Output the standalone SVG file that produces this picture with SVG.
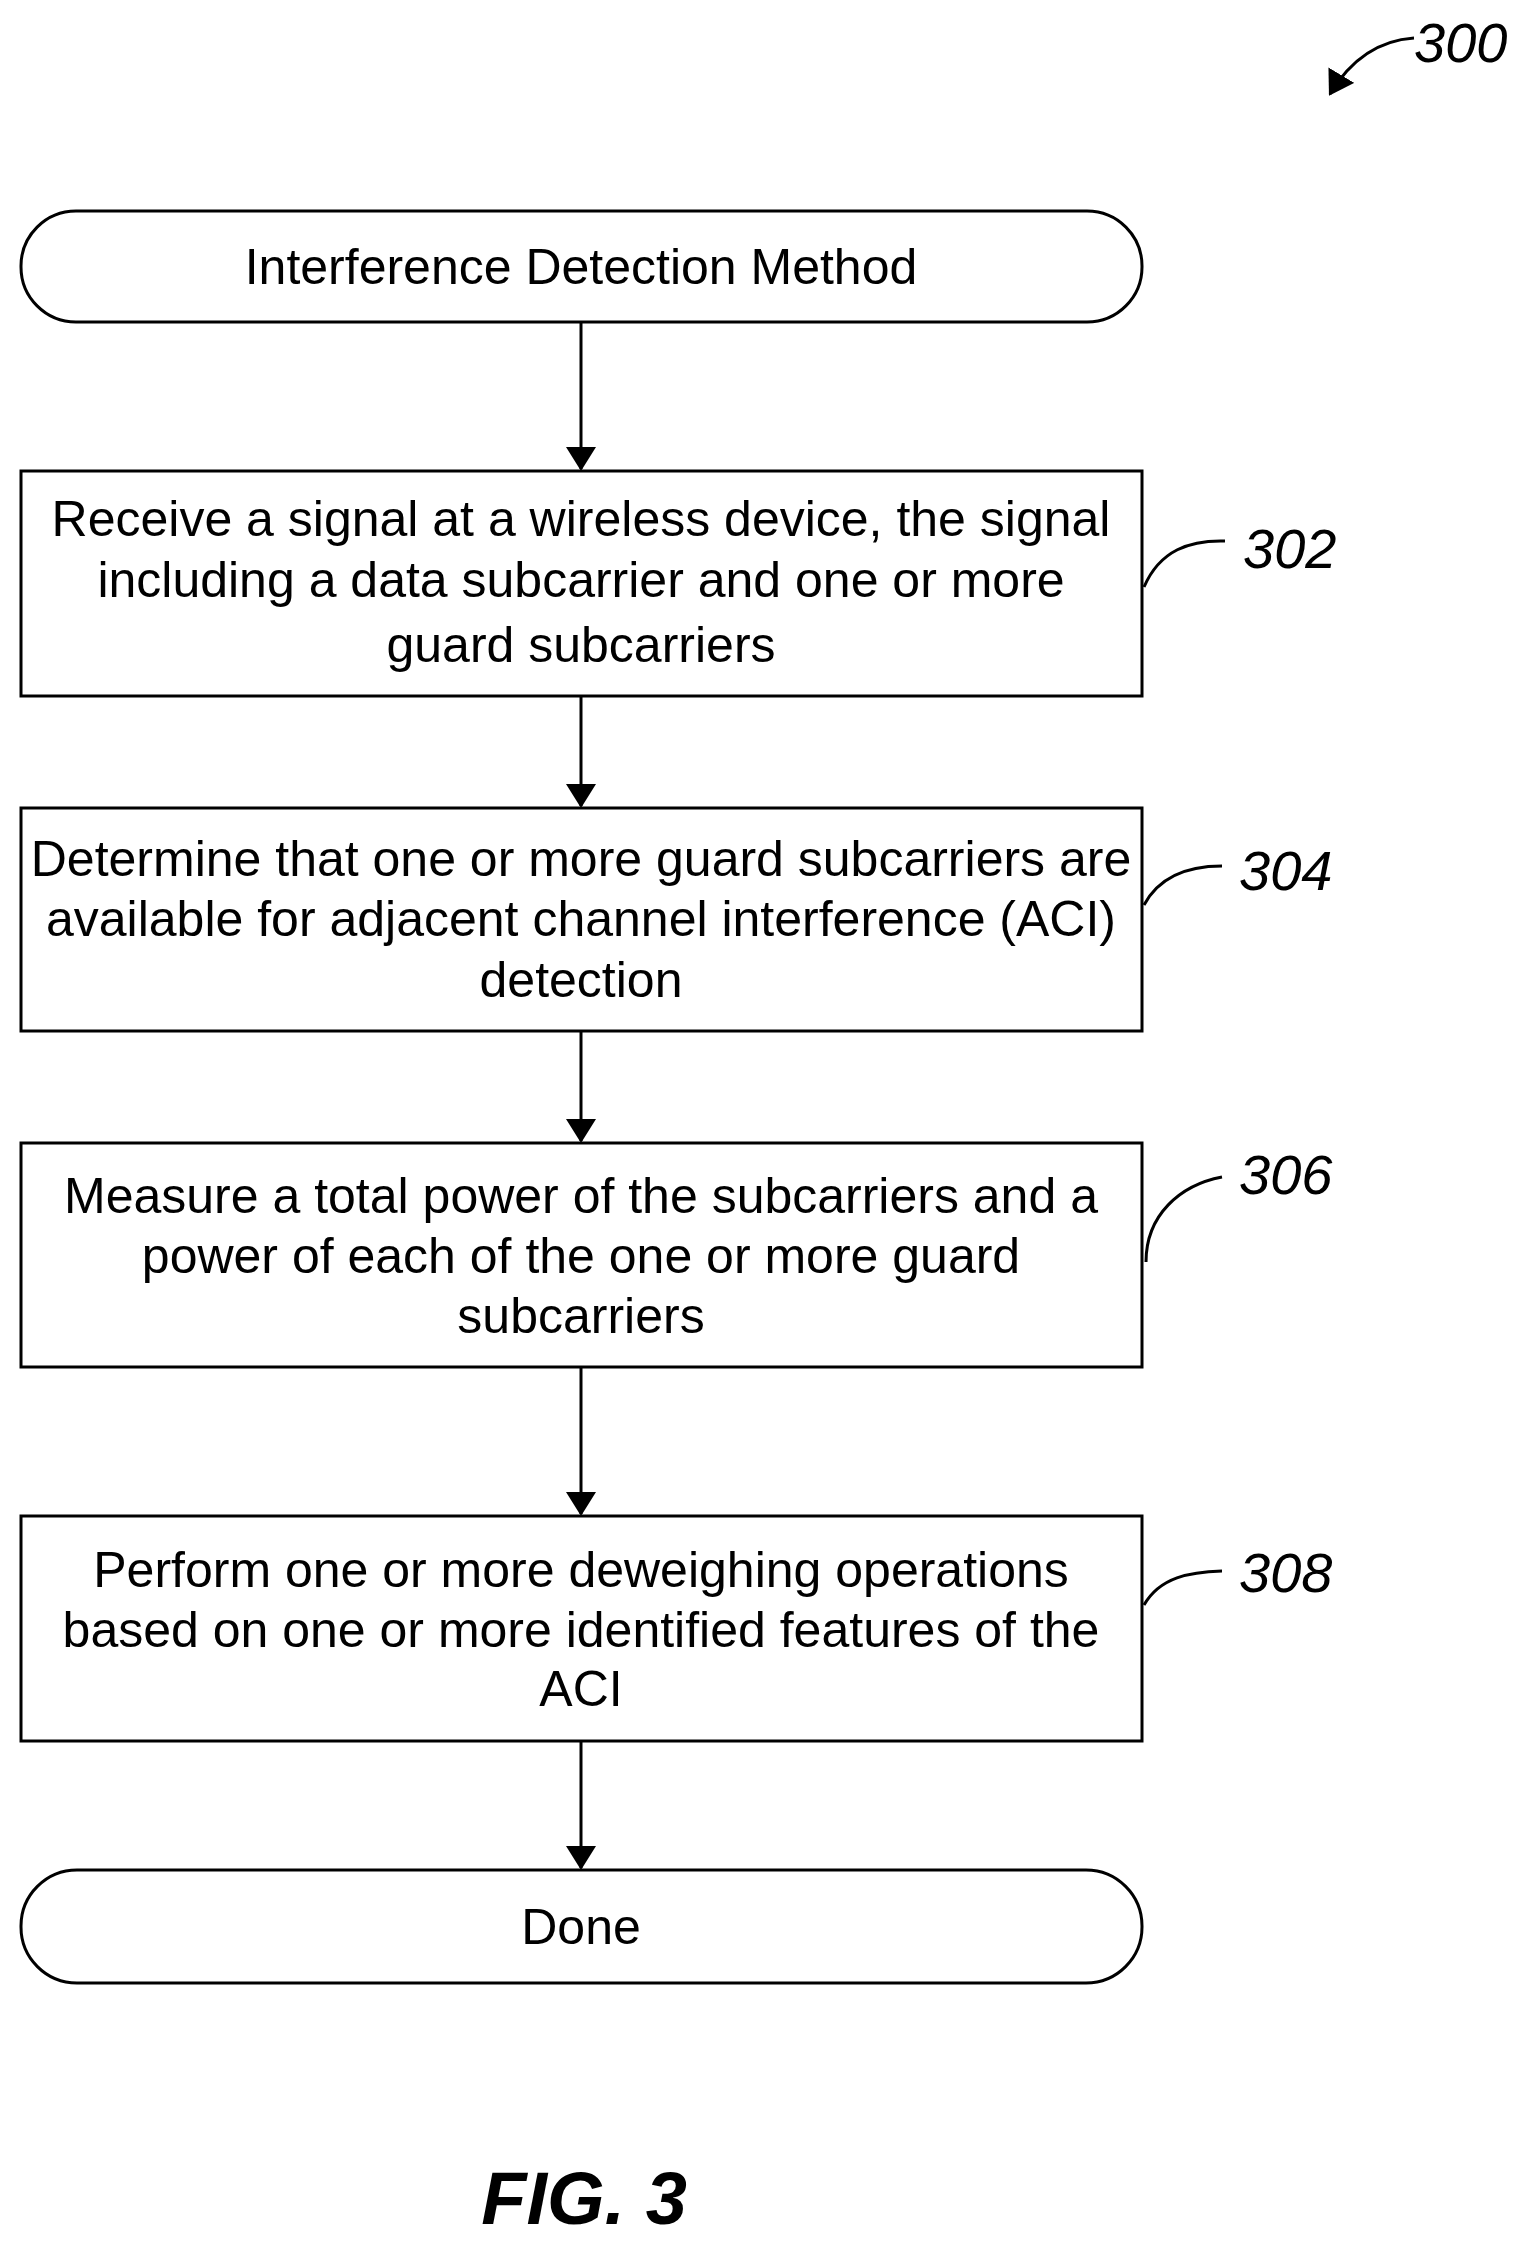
<svg xmlns="http://www.w3.org/2000/svg" width="1538" height="2258" viewBox="0 0 1538 2258">
<style>
.b{fill:#fff;stroke:#000;stroke-width:3}
.t{font-family:"Liberation Sans",Arial,sans-serif;font-size:50px;text-anchor:middle;fill:#000}
.l{font-family:"Liberation Sans",Arial,sans-serif;font-size:56px;font-style:italic;fill:#000}
.c{fill:none;stroke:#000;stroke-width:3}
</style>
<defs>
<marker id="a2" markerWidth="24" markerHeight="30" refX="22" refY="15" orient="auto" markerUnits="userSpaceOnUse" viewBox="0 0 24 30"><path d="M0,0 L24,15 L0,30 Z" fill="#000"/></marker></defs>
<g id="start"><rect class="b" x="21" y="211" width="1121" height="111" rx="55"/><text class="t" x="581" y="284">Interference Detection Method</text></g>
<g id="n302"><rect class="b" x="21" y="471" width="1121" height="225"/><text class="t" x="581" y="536">Receive a signal at a wireless device, the signal</text><text class="t" x="581" y="597">including a data subcarrier and one or more</text><text class="t" x="581" y="662">guard subcarriers</text></g>
<g id="n304"><rect class="b" x="21" y="808" width="1121" height="223"/><text class="t" x="581" y="876">Determine that one or more guard subcarriers are</text><text class="t" x="581" y="936">available for adjacent channel interference (ACI)</text><text class="t" x="581" y="997">detection</text></g>
<g id="n306"><rect class="b" x="21" y="1143" width="1121" height="224"/><text class="t" x="581" y="1213">Measure a total power of the subcarriers and a</text><text class="t" x="581" y="1273">power of each of the one or more guard</text><text class="t" x="581" y="1333">subcarriers</text></g>
<g id="n308"><rect class="b" x="21" y="1516" width="1121" height="225"/><text class="t" x="581" y="1587">Perform one or more deweighing operations</text><text class="t" x="581" y="1647">based on one or more identified features of the</text><text class="t" x="581" y="1706">ACI</text></g>
<g id="done"><rect class="b" x="21" y="1870" width="1121" height="113" rx="56"/><text class="t" x="581" y="1944">Done</text></g>
<g id="connectors">
<line class="c" x1="581" y1="322" x2="581" y2="469" marker-end="url(#a2)"/>
<line class="c" x1="581" y1="696" x2="581" y2="806" marker-end="url(#a2)"/>
<line class="c" x1="581" y1="1031" x2="581" y2="1141" marker-end="url(#a2)"/>
<line class="c" x1="581" y1="1367" x2="581" y2="1514" marker-end="url(#a2)"/>
<line class="c" x1="581" y1="1741" x2="581" y2="1868" marker-end="url(#a2)"/>
<path class="c" d="M1144,587 C1160,550 1190,540 1225,541"/>
<path class="c" d="M1144,905 C1160,875 1190,866 1222,866"/>
<path class="c" d="M1146,1262 C1146,1215 1180,1185 1222,1177"/>
<path class="c" d="M1144,1605 C1160,1577 1190,1572 1222,1571"/>
<path class="c" d="M1414,38 C1384,40 1354,54 1330,94" marker-end="url(#a2)"/>
</g>
<text class="l" x="1243" y="568">302</text>
<text class="l" x="1239" y="890">304</text>
<text class="l" x="1239" y="1194">306</text>
<text class="l" x="1239" y="1592">308</text>
<text class="l" x="1414" y="62">300</text>
<text x="584" y="2224" style="font-family:'Liberation Sans',Arial,sans-serif;font-size:74px;font-weight:bold;font-style:italic;text-anchor:middle">FIG. 3</text>
</svg>
